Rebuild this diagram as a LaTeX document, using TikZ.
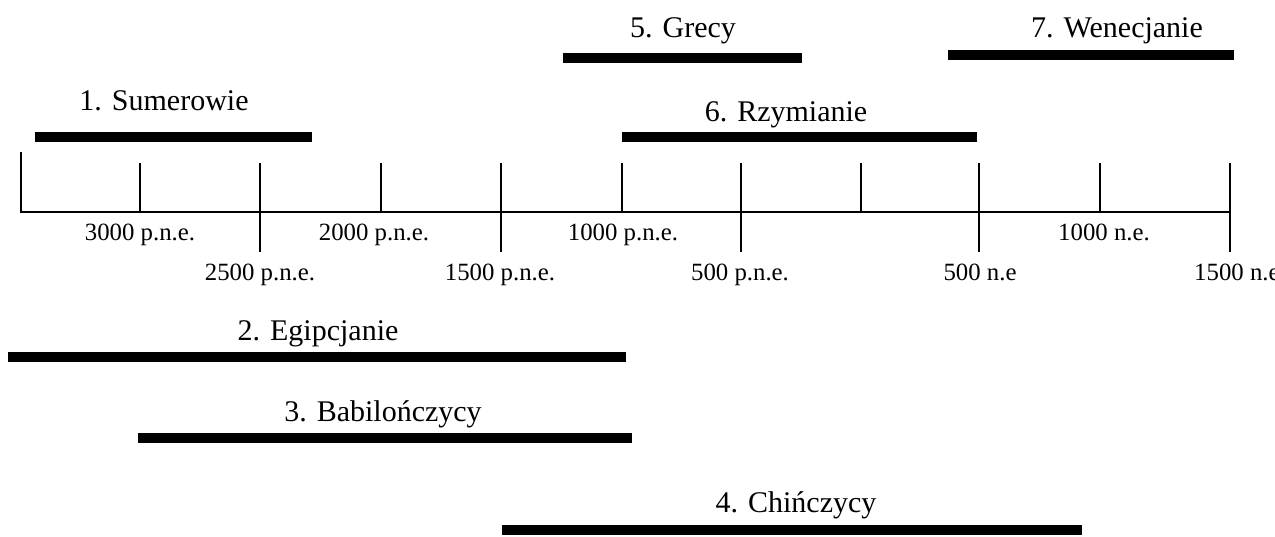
\documentclass[tikz,border=0pt]{standalone}
\usepackage{fontspec}
\setmainfont{Liberation Serif}
\begin{document}
\begin{tikzpicture}[x=0.5pt,y=-0.5pt,
	era/.style={line width=5pt},
	axistick/.style={line width=0.7pt},
	eralabel/.style={font=\fontsize{15}{18}\selectfont, anchor=base, inner sep=0pt},
	datelabel/.style={font=\fontsize{12.4}{14}\selectfont, anchor=base, inner sep=0pt}]
		%%%%% START %%%%%
		\useasboundingbox (0,0) rectangle (1275,536);
		
		% axis
		\draw[axistick] (21,152) -- (21,212) -- (1230,212);
		\foreach \x in {140,381,622,861,1100}
			\draw[axistick] (\x,163) -- (\x,212);
		\foreach \x in {260,501,741,979,1230}
			\draw[axistick] (\x,163) -- (\x,252);
		
		% dates
		\node[datelabel] (d3000) at (140,240) {3000 p.n.e.};
		\node[datelabel] (d2000) at (374,240) {2000 p.n.e.};
		\node[datelabel] (d1000) at (623,240) {1000 p.n.e.};
		\node[datelabel] (n1000) at (1104,240) {1000 n.e.};
		\node[datelabel] (d2500) at (260,280) {2500 p.n.e.};
		\node[datelabel] (d1500) at (500,280) {1500 p.n.e.};
		\node[datelabel] (d500) at (740,280) {500 p.n.e.};
		\node[datelabel] (n500) at (980,280) {500 n.e};
		\node[datelabel] (n1500) at (1240,280) {1500 n.e.};
		
		% peoples
		\draw[era] (35,137) -- (312,137);
		\node[eralabel] (sumer) at (164,110) {1. Sumerowie};
		
		\draw[era] (8,357) -- (626,357);
		\node[eralabel] (egypt) at (318,340) {2. Egipcjanie};
		
		\draw[era] (138,438) -- (632,438);
		\node[eralabel] (babylon) at (383,421) {3. Babilończycy};
		
		\draw[era] (502,530) -- (1082,530);
		\node[eralabel] (china) at (796,512) {4. Chińczycy};
		
		\draw[era] (563,58) -- (802,58);
		\node[eralabel] (greece) at (683,37) {5. Grecy};
		
		\draw[era] (622,137) -- (977,137);
		\node[eralabel] (rome) at (786,121) {6. Rzymianie};
		
		\draw[era] (948,55) -- (1234,55);
		\node[eralabel] (venice) at (1117,37) {7. Wenecjanie};
		
		%%%%% END %%%%%
\end{tikzpicture}
\end{document}
